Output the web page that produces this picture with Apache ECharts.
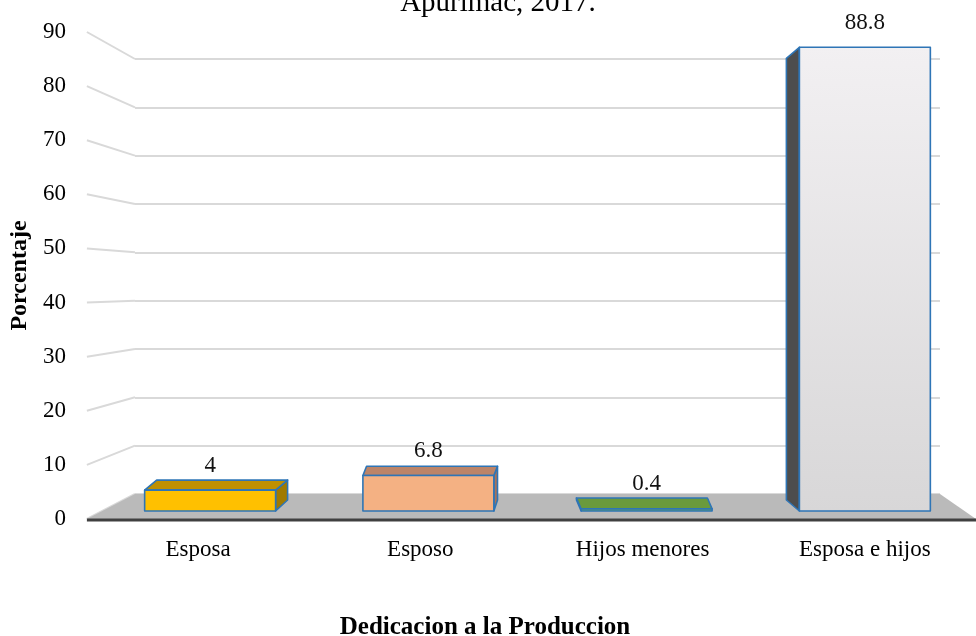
<!DOCTYPE html>
<html>
<head>
<meta charset="utf-8">
<title>Dedicacion a la Produccion</title>
<script src="https://cdn.jsdelivr.net/npm/echarts@6/dist/echarts.min.js"></script>
<style>
  html, body { margin: 0; padding: 0; background: #fff; }
  #main { width: 976px; height: 636px; }
</style>
</head>
<body>
<div id="main"></div>
<script>
// datos del grafico
var categorias = ['Esposa', 'Esposo', 'Hijos menores', 'Esposa e hijos']
var porcentajes = [4, 6.8, 0.4, 88.8]
var marcas = [0, 10, 20, 30, 40, 50, 60, 70, 80, 90]

// colores de las cajas: frente, tapa, lado
var colorFrente = ['#FFC000', '#F4B183', '#70AD47', '#E6E5E6']
var colorTapa = ['#BF9000', '#BC8468', '#6A9A3C', '#D0D0D0']
var colorLado = ['#A07A00', '#A8735A', '#5A8530', '#4D4D4D']

var FUENTE = '"Liberation Serif", "Times New Roman", serif'
// punto de fuga de la perspectiva y profundidad de las cajas
var FUGA = [524, 280]
var KX = 0.0382
var KY = 0.0476

var chart = echarts.init(document.getElementById('main'))

function px(finder, val) {
  return chart.convertToPixel(finder, val)
}

function cara(puntos, fill) {
  return {
    type: 'polygon',
    shape: { points: puntos },
    style: { fill: fill, stroke: '#2E75B6', lineWidth: 1.6, lineJoin: 'round' }
  }
}

// cajas 3D
function renderCaja(params, api) {
  var i = api.value(0)
  var v = api.value(1)
  var base = api.coord([i, 0])
  var tope = api.coord([i, v])
  var w = api.size([1, 0])[0] * 0.6
  var x0 = base[0] - w / 2
  var x1 = base[0] + w / 2
  var y0 = base[1]
  var y1 = tope[1]
  // desplazamiento horizontal por barra hacia el punto de fuga
  var dx = (FUGA[0] - base[0]) * KX
  function fondo(p) {
    return [p[0] + dx, p[1] + (FUGA[1] - p[1]) * KY]
  }
  var fTL = [x0, y1], fTR = [x1, y1], fBL = [x0, y0], fBR = [x1, y0]
  var hijos = []
  if (dx > 0) {
    hijos.push(cara([fTR, fBR, fondo(fBR), fondo(fTR)], colorLado[i]))
  } else {
    hijos.push(cara([fTL, fBL, fondo(fBL), fondo(fTL)], colorLado[i]))
  }
  if (y1 > FUGA[1]) {
    hijos.push(cara([fTL, fTR, fondo(fTR), fondo(fTL)], colorTapa[i]))
  }
  var relleno = colorFrente[i]
  if (i === 3) {
    relleno = new echarts.graphic.LinearGradient(0, 0, 0, 1, [
      { offset: 0, color: '#F2F0F2' },
      { offset: 1, color: '#D8D7D8' }
    ])
  }
  hijos.push(cara([fTL, fTR, fBR, fBL], relleno))
  hijos.push({
    type: 'text',
    x: base[0],
    y: y1 - 13,
    style: {
      text: String(v),
      font: '23px ' + FUENTE,
      fill: '#111',
      align: 'center',
      verticalAlign: 'bottom'
    }
  })
  return { type: 'group', children: hijos }
}

// lineas de la pared lateral
function renderLateral(params, api) {
  var v = api.value(0)
  var f = px({ xAxisIndex: 1, yAxisIndex: 0 }, [0, v])
  var b = px({ xAxisIndex: 2, yAxisIndex: 1 }, [0, v])
  return {
    type: 'line',
    shape: { x1: f[0], y1: f[1], x2: b[0], y2: b[1] },
    style: { stroke: '#D9D9D9', lineWidth: 2 }
  }
}

// piso
function renderPiso(params, api) {
  var fl = px({ xAxisIndex: 1, yAxisIndex: 0 }, [0, 0])
  var fr = px({ xAxisIndex: 1, yAxisIndex: 0 }, [1, 0])
  var bl = px({ xAxisIndex: 2, yAxisIndex: 1 }, [0, 0])
  var br = px({ xAxisIndex: 2, yAxisIndex: 1 }, [1, 0])
  return {
    type: 'group',
    children: [
      {
        type: 'polygon',
        shape: { points: [fl, bl, br, fr] },
        style: { fill: '#BABABA' }
      },
      {
        type: 'line',
        shape: { x1: fl[0], y1: fl[1] + 1, x2: fr[0], y2: fr[1] + 1 },
        style: { stroke: '#404040', lineWidth: 3 }
      }
    ]
  }
}

var option = {
  animation: false,
  backgroundColor: '#fff',
  graphic: [
    {
      type: 'text',
      x: 498,
      y: 3,
      style: {
        text: 'Apurímac, 2017.',
        font: '29px ' + FUENTE,
        fill: '#000',
        align: 'center',
        verticalAlign: 'middle'
      }
    },
    {
      type: 'text',
      x: 485,
      y: 628,
      style: {
        text: 'Dedicacion a la Produccion',
        font: 'bold 25px ' + FUENTE,
        fill: '#000',
        align: 'center',
        verticalAlign: 'middle'
      }
    }
  ],
  grid: [
    // plano frontal
    { left: 85, right: -14, top: 32, bottom: 117 },
    // pared del fondo
    { left: 135, right: 36, top: 59, bottom: 142 },
    // plano de las barras
    { left: 101, right: 2, top: 41, bottom: 125 }
  ],
  xAxis: [
    {
      gridIndex: 0,
      type: 'category',
      data: categorias,
      axisLine: { show: false },
      axisTick: { show: false },
      axisLabel: { margin: 19, color: '#000', fontSize: 23, fontFamily: FUENTE }
    },
    { gridIndex: 0, type: 'value', min: 0, max: 1, show: false },
    { gridIndex: 1, type: 'value', min: 0, max: 1, show: false },
    {
      gridIndex: 2,
      type: 'category',
      data: categorias,
      show: false
    }
  ],
  yAxis: [
    {
      gridIndex: 0,
      type: 'value',
      min: 0,
      max: 90,
      interval: 10,
      name: 'Porcentaje',
      nameLocation: 'middle',
      nameGap: 52,
      nameTextStyle: { fontSize: 24, fontWeight: 'bold', color: '#000', fontFamily: FUENTE },
      axisLine: { show: false },
      axisTick: { show: false },
      splitLine: { show: false },
      axisLabel: { margin: 21, color: '#000', fontSize: 23, fontFamily: FUENTE }
    },
    {
      gridIndex: 1,
      type: 'value',
      min: 0,
      max: 90,
      interval: 10,
      axisLine: { show: false },
      axisTick: { show: false },
      axisLabel: { show: false },
      splitLine: { lineStyle: { color: '#D9D9D9', width: 2 } }
    },
    {
      gridIndex: 2,
      type: 'value',
      min: 0,
      max: 90,
      interval: 10,
      show: false,
      splitLine: { show: false }
    }
  ],
  series: [
    {
      type: 'custom',
      coordinateSystem: 'none',
      renderItem: renderLateral,
      data: marcas,
      z: 1,
      silent: true
    },
    {
      type: 'custom',
      coordinateSystem: 'none',
      renderItem: renderPiso,
      data: [0],
      z: 2,
      silent: true
    },
    {
      type: 'custom',
      xAxisIndex: 3,
      yAxisIndex: 2,
      renderItem: renderCaja,
      encode: { x: 0, y: 1 },
      data: porcentajes.map(function (v, i) { return [i, v] }),
      z: 3
    }
  ]
}

chart.setOption(option)
</script>
</body>
</html>
